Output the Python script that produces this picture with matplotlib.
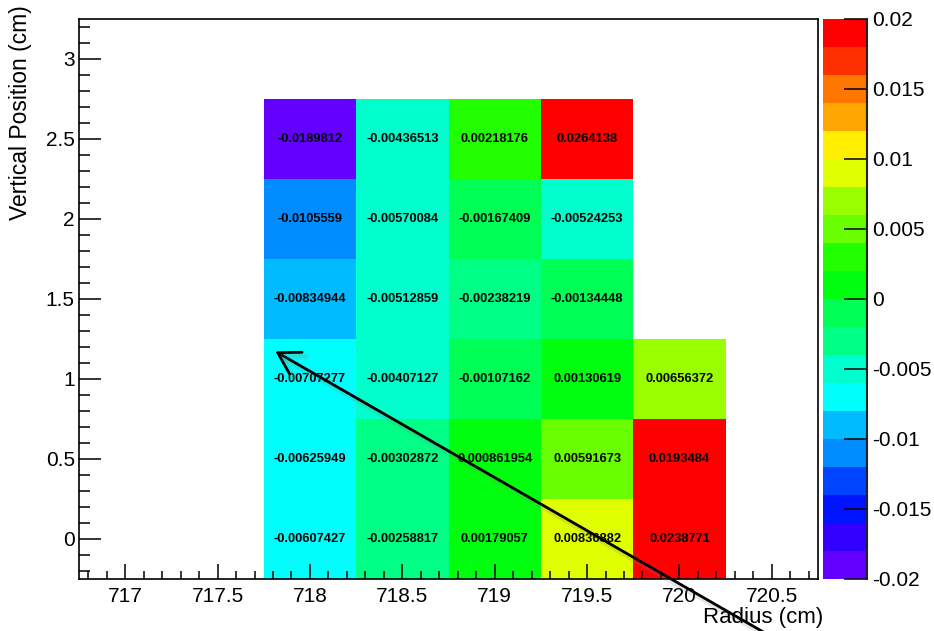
import colorsys
import numpy as np
import matplotlib
matplotlib.use("Agg")
import matplotlib.pyplot as plt
import matplotlib.colors as mcolors
import matplotlib.patheffects as pe
from matplotlib.ticker import MultipleLocator

plt.rcParams['font.family'] = ['Liberation Sans', 'DejaVu Sans']

### data : one list per radius column, from bottom (0 cm) to top (2.5 cm)
radius = [718.0, 718.5, 719.0, 719.5, 720.0]
vertical = [0.0, 0.5, 1.0, 1.5, 2.0, 2.5]
col_718 = [-0.00607427, -0.00625949, -0.00707277, -0.00834944, -0.0105559, -0.0189812]
col_7185 = [-0.00258817, -0.00302872, -0.00407127, -0.00512859, -0.00570084, -0.00436513]
col_719 = [0.00179057, 0.000861954, -0.00107162, -0.00238219, -0.00167409, 0.00218176]
col_7195 = [0.00836882, 0.00591673, 0.00130619, -0.00134448, -0.00524253, 0.0264138]
col_720 = [0.0238771, 0.0193484, 0.00656372, np.nan, np.nan, np.nan]

z = np.array([col_718, col_7185, col_719, col_7195, col_720]).T  # rows = vertical

# bin edges (bins of 0.5 cm)
xedges = np.append(np.array(radius) - 0.25, radius[-1] + 0.25)
yedges = np.append(np.array(vertical) - 0.25, vertical[-1] + 0.25)

# "pretty palette" violet -> red, 20 levels
ncol = 50
ndiv = 20
pal = []
for j in range(ndiv):
    k = int((j + 0.99) * ncol / ndiv)
    hue = 280 - (k + 1) * (280.0 / ncol)
    pal.append(colorsys.hls_to_rgb(hue / 360.0, 0.5, 1.0))
cmap = mcolors.ListedColormap(pal)
levels = np.linspace(-0.02, 0.02, ndiv + 1)
norm = mcolors.BoundaryNorm(levels, ncolors=ndiv)

fig = plt.figure(figsize=(9.34, 6.31), dpi=100)
W, H = 934.0, 631.0
ax = fig.add_axes([79 / W, 52 / H, 739 / W, 560 / H])
cax = fig.add_axes([823 / W, 52 / H, 44 / W, 560 / H])

mesh = ax.pcolormesh(xedges, yedges, np.ma.masked_invalid(z), cmap=cmap, norm=norm)

for i in range(len(vertical)):
    for j in range(len(radius)):
        v = z[i, j]
        if np.isnan(v):
            continue
        ax.text(radius[j], vertical[i], "%g" % v, ha="center", va="center",
                fontsize=9.3, fontweight="bold", color="black")

ax.set_xlim(716.75, 720.75)
ax.set_ylim(-0.25, 3.25)
ax.xaxis.set_major_locator(MultipleLocator(0.5))
ax.xaxis.set_minor_locator(MultipleLocator(0.1))
ax.yaxis.set_major_locator(MultipleLocator(0.5))
ax.yaxis.set_minor_locator(MultipleLocator(0.1))
ax.xaxis.set_major_formatter(plt.FuncFormatter(lambda v, p: "%g" % v))
ax.yaxis.set_major_formatter(plt.FuncFormatter(lambda v, p: "%g" % v))
# tick lengths in points (1 pt = 1.39 px here)
ax.tick_params(axis="x", which="major", direction="in", length=11, width=1.1, labelsize=15, pad=6)
ax.tick_params(axis="x", which="minor", direction="in", length=6, width=1.1)
ax.tick_params(axis="y", which="major", direction="in", length=16, width=1.1, labelsize=15, pad=3)
ax.tick_params(axis="y", which="minor", direction="in", length=8, width=1.1)
for s in ax.spines.values():
    s.set_linewidth(1.2)

fig.text(823 / W, 13 / H, "Radius (cm)", ha="right", va="center", fontsize=16)
fig.text(21 / W, 1 - 5 / H, "Vertical Position (cm)", rotation=90, ha="center", va="top", fontsize=16.5)

# palette axis
cb = fig.colorbar(mesh, cax=cax, ticks=np.arange(-0.02, 0.0201, 0.005))
cb.outline.set_visible(False)
cax.plot([1, 1], [0, 1], transform=cax.transAxes, color="#222222", lw=1.5, clip_on=False)
cax.yaxis.set_major_formatter(plt.FuncFormatter(lambda v, p: "%g" % (0 if abs(v) < 1e-9 else v)))
cax.tick_params(axis="y", which="major", direction="in", length=16.5, width=1.1, labelsize=15, pad=3.5)
cax.minorticks_off()

# arrow with a little shadow
ax.annotate("", xy=(273, H - 350), xycoords="figure pixels",
            xytext=(772, -6), textcoords="figure pixels",
            arrowprops=dict(arrowstyle="->,head_length=0.5,head_width=0.3", lw=2, color="black",
                            mutation_scale=30,
                            path_effects=[pe.SimpleLineShadow(offset=(3, -3), shadow_color="gray",
                                                              alpha=0.2, linewidth=4),
                                          pe.Normal()]),
            annotation_clip=False)

plt.savefig("out.png", dpi=100)
